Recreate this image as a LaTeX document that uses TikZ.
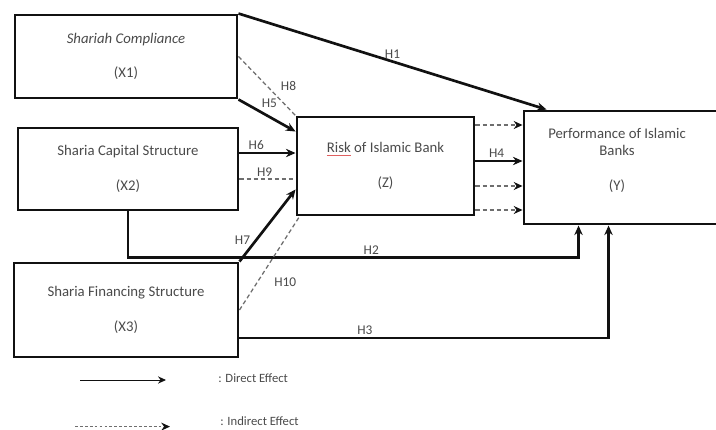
\documentclass[tikz,border=0pt]{standalone}
\usepackage{fontspec}
\setmainfont{Carlito}
\usetikzlibrary{arrows.meta,positioning,calc}
\definecolor{ink}{HTML}{111111}
\definecolor{inkgray}{HTML}{4A4A4A}
\definecolor{dashgray}{HTML}{6E6E6E}
\definecolor{spellred}{HTML}{E06060}
\newcommand{\spellmark}[1]{{\color{spellred}\underline{\textcolor{inkgray}{#1}}}}
\tikzset{
  varbox/.style={draw=ink,line width=2.1pt,align=center,inner sep=4pt,
                 font=\fontsize{10.5}{12.5}\selectfont,text=inkgray},
  boxtext/.style={align=center,inner sep=0pt,
                  font=\fontsize{10.5}{12.5}\selectfont,text=inkgray},
  hlabel/.style={font=\fontsize{9.5}{11}\selectfont,text=inkgray,inner sep=1.5pt},
  legtext/.style={font=\fontsize{9}{11}\selectfont,text=inkgray,inner sep=0pt},
  directarr/.style={-{Stealth[length=2.4mm,width=2.1mm]},line width=1.9pt,
                    draw=ink},
  dashlink/.style={draw=dashgray,line width=0.9pt,dash pattern=on 3pt off 2pt},
  dasharr/.style={-{Stealth[length=2.2mm,width=2mm,color=ink]},line width=1.1pt,
                  draw=dashgray,dash pattern=on 3pt off 2pt},
  legarr/.style={-{Stealth[length=2mm,width=1.8mm]},line width=0.6pt,draw=ink},
  legdash/.style={-{Stealth[length=2.2mm,width=2mm,color=ink]},line width=0.8pt,
                  draw=dashgray,dash pattern=on 2pt off 1.5pt}
}
\begin{document}
\begin{tikzpicture}
  \useasboundingbox (0,0) rectangle (17.9,10.725);
  % variables
  \node[varbox,minimum width=5.55cm,minimum height=2.075cm] (X1) at (3.15,9.3125)
    {\textit{Shariah Compliance}\\[12pt](X1)};
  \node[varbox,minimum width=5.5cm,minimum height=2.05cm] (X2) at (3.2,6.5)
    {Sharia Capital Structure\\[12pt](X2)};
  \node[varbox,minimum width=5.6cm,minimum height=2.35cm] (X3) at (3.15,2.975)
    {Sharia Financing Structure\\[12pt](X3)};
  \node[varbox,minimum width=4.425cm,minimum height=2.45cm] (Z) at (9.6375,6.575)
    {\spellmark{Risk} of Islamic Bank\\[12pt](Z)};
  \node[varbox,minimum width=5.4cm,minimum height=2.825cm] (Y) at (15.8,6.5375) {};
  \node[boxtext] (ytext) at (15.425,6.725)
    {Performance of Islamic\\Banks\\[12pt](Y)};

  % direct effects
  \draw[directarr] (X1.north east) -- ($(Y.north west)+(0.6,0)$)
    node[hlabel,pos=0.5,above] {H1};
  \draw[directarr] (X1.south east) -- ($(Z.north west)+(0,-0.4)$)
    node[hlabel,pos=0.35,above right=0pt] {H5};
  \draw[directarr] ($(X2.east)+(0,0.4)$) coordinate (h6) -- (h6 -| Z.west)
    node[hlabel,pos=0.3,above] {H6};
  \draw[directarr] (X3.north east) -- ($(Z.south west)+(0,0.675)$)
    node[hlabel,pos=0.3,left=2pt] {H7};
  \draw[directarr] ($(Z.east)+(0,0.125)$) coordinate (h4) -- (h4 -| Y.west)
    node[hlabel,pos=0.45,above] {H4};
  \coordinate (h2turn) at ($(Y.south west)+(1.4,-0.8)$);
  \draw[directarr] (X2.south) |- node[hlabel,pos=0.77,above] {H2} (h2turn)
    -- (h2turn |- Y.south);
  \coordinate (h3end) at ($(Y.south west)+(2.15,0)$);
  \draw[directarr] ($(X3.east)+(0,-0.7)$) -| node[hlabel,pos=0.17,above] {H3}
    (h3end);

  % indirect effects
  \draw[dashlink] (X1.east) -- (Z.north west)
    node[hlabel,pos=0.5,right=8pt] {H8};
  \draw[dashlink] ($(X2.east)+(0,-0.25)$) coordinate (h9) -- (h9 -| Z.west)
    node[hlabel,pos=0.45,above] {H9};
  \draw[dashlink] (X3.east) -- ($(Z.south west)+(0.1,0)$)
    node[hlabel,pos=0.3,right=10pt] {H10};
  \foreach \dy in {1.025,-0.5,-1.1}
    \draw[dasharr] ($(Z.east)+(0,\dy)$) coordinate (zy) -- (zy -| Y.west);

  % legend
  \coordinate (dirA) at (2.0,1.225);
  \coordinate (dirB) at (4.15,1.225);
  \draw[legarr] (dirA) -- (dirB);
  \node[legtext,anchor=west] (dirtxt) at (5.45,1.275) {: Direct Effect};
  \coordinate (indA) at (1.875,0.06);
  \coordinate (indB) at (4.25,0.06);
  \draw[legdash] (indA) -- (indB);
  \node[legtext,anchor=west] (indtxt) at (5.5,0.2) {: Indirect Effect};
\end{tikzpicture}
\end{document}
